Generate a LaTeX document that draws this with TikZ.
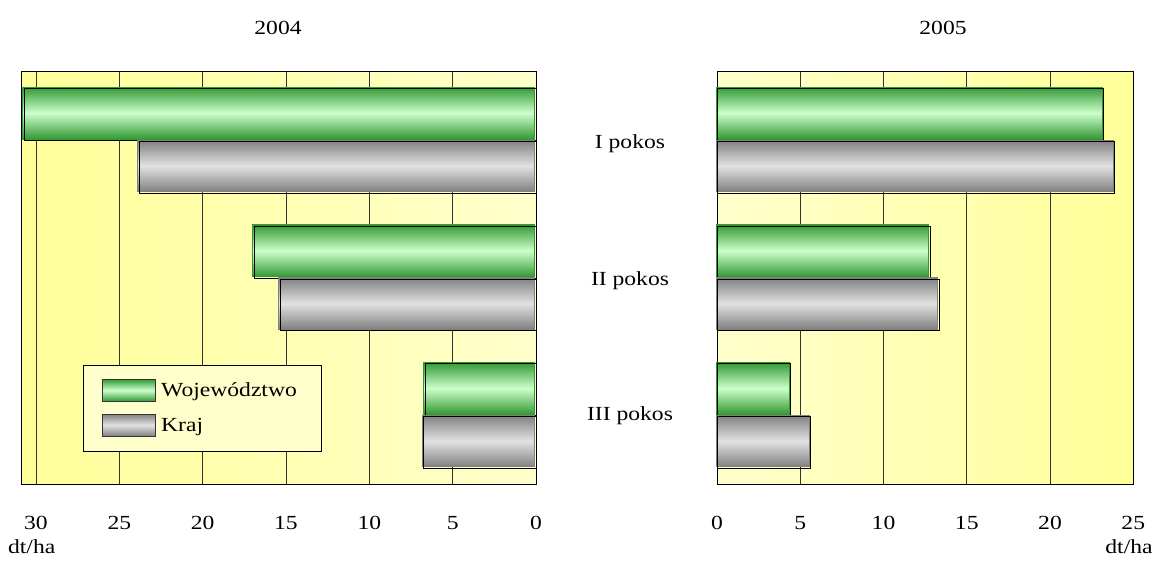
\documentclass[tikz,border=0pt]{standalone}
\usepackage{fontspec}
\setmainfont[FakeStretch=1.18]{Liberation Serif}
\usetikzlibrary{positioning}
\definecolor{wojdark}{HTML}{339933}
\definecolor{wojlight}{HTML}{CCFFCC}
\definecolor{krajdark}{HTML}{808080}
\definecolor{krajlight}{HTML}{E2E2E2}
\definecolor{ylwdark}{HTML}{FFFF99}
\definecolor{ylwlight}{HTML}{FFFFCC}
\begin{document}
\begin{tikzpicture}[x=1pt,y=-1pt,line width=0.8pt,
    every node/.style={font=\fontsize{20}{24}\selectfont},
    woj/.style={top color=wojdark,bottom color=wojdark,middle color=wojlight,draw=wojdark},
    kraj/.style={top color=krajdark,bottom color=krajdark,middle color=krajlight,draw=krajdark},
    barline/.style={draw=black},
    gridline/.style={draw=black!80},
    key/.style={minimum width=53pt,minimum height=22pt,inner sep=0pt,draw=black!80},
    keytext/.style={right=2pt of #1,text height=15pt,text depth=2pt}]
\useasboundingbox (0,0) rectangle (1155,563);
\shade[left color=ylwdark,right color=ylwlight] (21,71) rectangle (536,484);
\shade[left color=ylwlight,right color=ylwdark] (717,71) rectangle (1133,484);
\foreach \v in {0,5,...,30}{
	\draw[gridline] ({536-16.667*\v},71) -- ({536-16.667*\v},484);
	\node[anchor=base] (l\v) at ({536-16.667*\v},529) {\v};}
\foreach \v in {0,5,...,25}{
	\draw[gridline] ({717+16.65*\v},71) -- ({717+16.65*\v},484);
	\node[anchor=base] (r\v) at ({717+16.65*\v},529) {\v};}
\draw (21,71) rectangle (536,484);
\draw (717,71) rectangle (1133,484);
\foreach \w/\k/\y in {30.7/23.8/87,16.9/15.35/224.7,6.65/6.75/362.3}{
	\shade[woj] ({534.5-16.667*\w},\y) rectangle (534.5,\y+52);
	\draw[barline] ({536-16.667*\w},\y+1.5) rectangle (536,\y+53.5);
	\shade[kraj] ({534.5-16.667*\k},\y+53) rectangle (534.5,\y+104.5);
	\draw[barline] ({536-16.667*\k},\y+54.5) rectangle (536,\y+106);}
\foreach \w/\k/\y in {23.2/23.85/87,12.78/13.3/224.7,4.38/5.58/362.3}{
	\shade[woj] (716,\y) rectangle ({716+16.65*\w},\y+52);
	\draw[barline] (717.5,\y+1.5) rectangle ({717.5+16.65*\w},\y+53.5);
	\shade[kraj] (716,\y+53) rectangle ({716+16.65*\k},\y+104.5);
	\draw[barline] (717.5,\y+54.5) rectangle ({717.5+16.65*\k},\y+106);}
\draw[fill=ylwlight] (83,365) rectangle (321,451);
\node[woj,key] (wkey) at (128.5,390.3) {};
\node[kraj,key] (kkey) at (128.5,425) {};
\node[keytext=wkey] (wtext) {Województwo};
\node[keytext=kkey] (ktext) {Kraj};
\node[anchor=base] (y2004) at (278,34.5) {2004};
\node[anchor=base] (y2005) at (943,34.5) {2005};
\node[anchor=base] (p1) at (630,148) {I pokos};
\node[anchor=base] (p2) at (630,285.5) {II pokos};
\node[anchor=base] (p3) at (630,420) {III pokos};
\node[anchor=base] (ul) at (31.7,553) {dt/ha};
\node[anchor=base] (ur) at (1129,553) {dt/ha};
\end{tikzpicture}
\end{document}
